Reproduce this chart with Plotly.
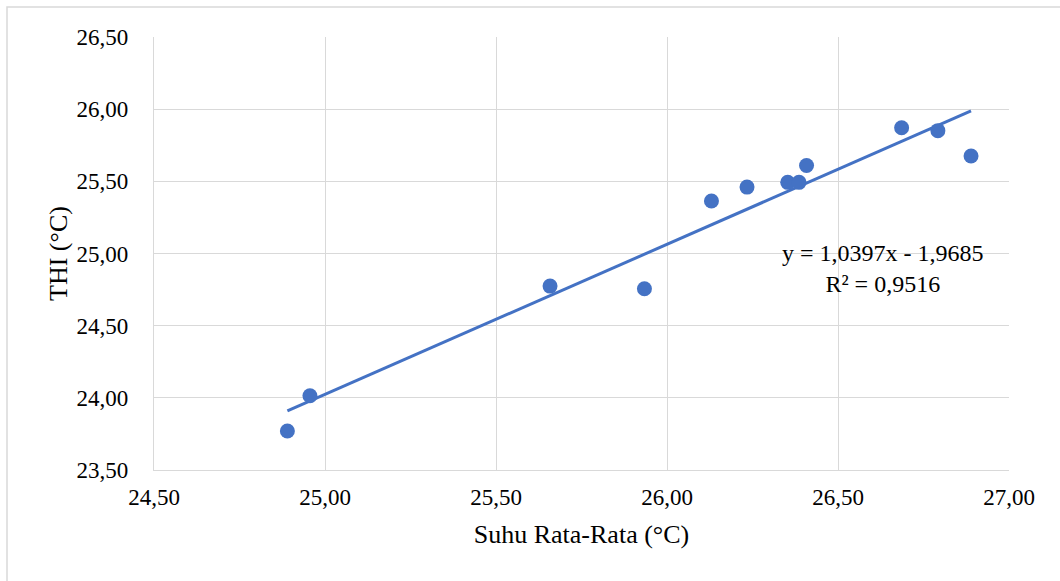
import plotly.graph_objects as go

# Data
suhu = [24.89, 24.956, 25.658, 25.934, 26.13, 26.234, 26.353, 26.386, 26.408, 26.686, 26.792, 26.889]
thi = [23.77, 24.014, 24.774, 24.756, 25.364, 25.46, 25.493, 25.493, 25.61, 25.871, 25.851, 25.675]
slope = 1.0397
intercept = -1.9685
eq_text = "y = 1,0397x - 1,9685<br>R² = 0,9516"
x_ticks = [24.5, 25.0, 25.5, 26.0, 26.5, 27.0]
x_tick_labels = ["24,50", "25,00", "25,50", "26,00", "26,50", "27,00"]
y_ticks = [23.5, 24.0, 24.5, 25.0, 25.5, 26.0, 26.5]
y_tick_labels = ["23,50", "24,00", "24,50", "25,00", "25,50", "26,00", "26,50"]

blue = "#4472C4"
grid = "#D9D9D9"
serif = "Liberation Serif"

xmin, xmax = min(suhu), max(suhu)
trend_x = [xmin, xmax]
trend_y = [slope * v + intercept for v in trend_x]

fig = go.Figure()
fig.add_trace(go.Scatter(x=trend_x, y=trend_y, mode="lines",
                         line=dict(color=blue, width=3), hoverinfo="skip",
                         showlegend=False))
fig.add_trace(go.Scatter(x=suhu, y=thi, mode="markers",
                         marker=dict(color=blue, size=15, line=dict(width=0)),
                         showlegend=False))

W, H = 1060, 581
L, R, T, B = 154, 51, 37, 111
pw, ph = W - L - R, H - T - B

fig.update_layout(
    width=W, height=H,
    margin=dict(l=L, r=R, t=T, b=B, pad=0),
    paper_bgcolor="white", plot_bgcolor="white",
    font=dict(family=serif, color="#000000", size=23),
    xaxis=dict(range=[24.5, 27.0], tickvals=x_ticks, ticktext=x_tick_labels,
               showgrid=True, gridcolor=grid, gridwidth=1.3,
               showline=True, linecolor=grid, linewidth=1.3, mirror=False,
               zeroline=False, ticks="", ticklabelstandoff=6,
               tickfont=dict(size=23, family=serif, color="#000000"),
               title=dict(text="Suhu Rata-Rata (°C)", font=dict(size=26, family=serif),
                          standoff=16)),
    yaxis=dict(range=[23.5, 26.5], tickvals=y_ticks, ticktext=y_tick_labels,
               showgrid=True, gridcolor=grid, gridwidth=1.3,
               showline=True, linecolor=grid, linewidth=1.3,
               zeroline=False, ticks="", ticklabelstandoff=20,
               tickfont=dict(size=23, family=serif, color="#000000"),
               title=dict(text="THI (°C)", font=dict(size=26, family=serif),
                          standoff=1)),
    annotations=[dict(x=26.632, y=24.894, xref="x", yref="y", text=eq_text,
                      showarrow=False, align="center",
                      font=dict(size=24, family=serif, color="#000000"))],
    shapes=[dict(type="rect", xref="paper", yref="paper",
                 x0=(7 - L) / pw, x1=(W + 10 - L) / pw,
                 y0=-(H + 10 - T - ph) / ph, y1=1 + (T - 7) / ph,
                 line=dict(color=grid, width=1.5), fillcolor="rgba(0,0,0,0)",
                 layer="below")],
)

fig.write_html("out.html", config={"displayModeBar": False},
               post_script="document.body.style.margin='0px';document.body.style.overflow='hidden';")
